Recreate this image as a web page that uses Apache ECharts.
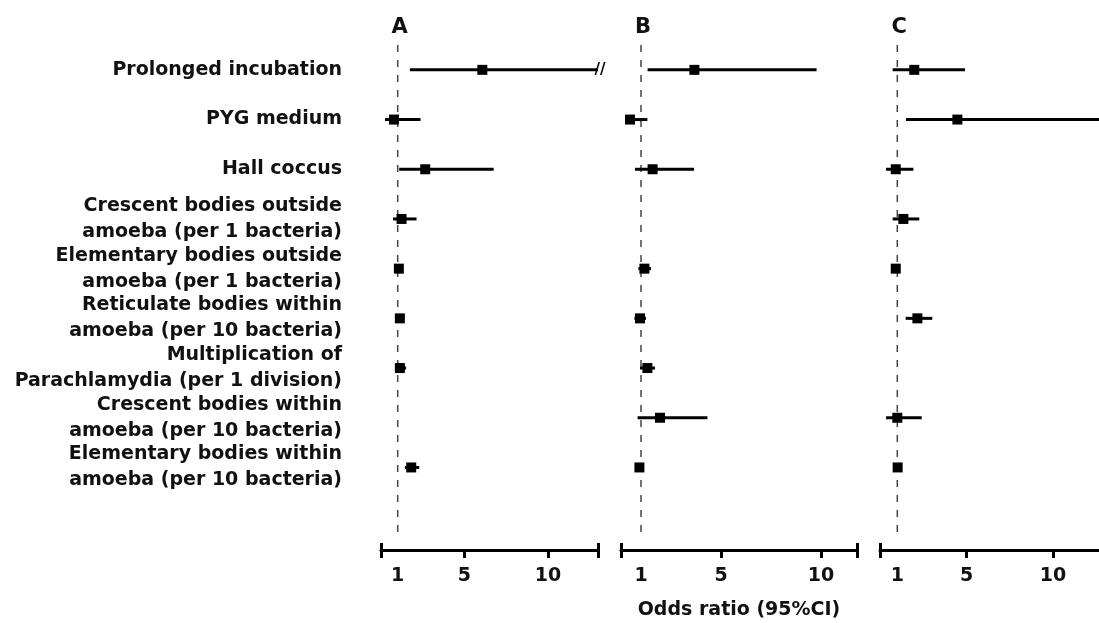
<!DOCTYPE html>
<html>
<head>
<meta charset="utf-8">
<script src="https://cdn.jsdelivr.net/npm/echarts@6/dist/echarts.min.js"></script>
<style>
  html, body { margin: 0; padding: 0; background: #fff; }
  #main { width: 1099px; height: 623px; }
</style>
</head>
<body>
<div id="main"></div>
<script>
// row labels (last one empty = space under the last row)
var rowNames = [
    'Prolonged incubation',
    'PYG medium',
    'Hall coccus',
    'Crescent bodies outside\namoeba (per 1 bacteria)',
    'Elementary bodies outside\namoeba (per 1 bacteria)',
    'Reticulate bodies within\namoeba (per 10 bacteria)',
    'Multiplication of\nParachlamydia (per 1 division)',
    'Crescent bodies within\namoeba (per 10 bacteria)',
    'Elementary bodies within\namoeba (per 10 bacteria)',
    ''
];
var panelNames = ['A', 'B', 'C'];
var tickLabels = [1, 5, 10];
var refValue = 1;

// panel A : odds ratio with 95% CI
var loA = [1.73, 0.24, 1.09, 0.72, 0.95, 0.90, 0.85, null, 1.43];
var orA = [6.07, 0.78, 2.65, 1.23, 1.07, 1.13, 1.13, null, 1.81];
var hiA = [13,   2.37, 6.75, 2.13, 1.20, 1.40, 1.50, null, 2.29];
var brokenA = [1, 0, 0, 0, 0, 0, 0, 0, 0];

// panel B
var loB = [1.33, 0.20, 0.70, null, 0.87, 0.67, 0.95, 0.83, 0.80];
var orB = [3.67, 0.45, 1.58, null, 1.17, 0.95, 1.32, 1.95, 0.92];
var hiB = [9.78, 1.32, 3.65, null, 1.50, 1.25, 1.70, 4.32, 1.05];
var brokenB = [0, 0, 0, 0, 0, 0, 0, 0, 0];

// panel C
var loC = [0.73, 1.50, 0.35, 0.73, 0.75, 1.48, null, 0.35, 0.90];
var orC = [1.98, 4.47, 0.91, 1.35, 0.91, 2.16, null, 1.00, 1.02];
var hiC = [4.91, 13,   1.93, 2.27, 1.05, 3.02, null, 2.41, 1.15];
var brokenC = [0, 0, 0, 0, 0, 0, 0, 0, 0];

var FONT = 'DejaVu Sans';

function buildData(lo, or, hi, broken) {
    var out = [];
    for (var i = 0; i < or.length; i++) {
        if (or[i] == null) continue;
        out.push([lo[i], or[i], hi[i], i, broken[i]]);
    }
    return out;
}

function renderItem(params, api) {
    var row = api.value(3);
    var p0 = api.coord([api.value(0), row]);
    var p1 = api.coord([api.value(1), row]);
    var p2 = api.coord([api.value(2), row]);
    var children = [
        {
            type: 'line',
            shape: { x1: p0[0], y1: p0[1], x2: p2[0], y2: p2[1] },
            style: { stroke: '#000', lineWidth: 3 }
        },
        {
            type: 'rect',
            shape: { x: p1[0] - 5, y: p1[1] - 5, width: 10, height: 10 },
            style: { fill: '#000' }
        }
    ];
    if (api.value(4)) {
        children.push({
            type: 'text',
            x: p2[0] + 2,
            y: p2[1],
            style: {
                text: '//', fill: '#000', align: 'center', verticalAlign: 'middle',
                fontSize: 15, fontWeight: 'bold', fontFamily: FONT
            }
        });
    }
    return { type: 'group', children: children };
}

// dashed vertical line at OR = 1, full grid height
function renderRef(params, api) {
    var cs = params.coordSys;
    var x = api.coord([api.value(0), 0])[0];
    return {
        type: 'line',
        shape: { x1: x, y1: cs.y, x2: x, y2: cs.y + cs.height - 4 },
        style: { stroke: '#444', lineWidth: 1.5, lineDash: [7, 8] }
    };
}

var panels = [
    { left: 381, width: 217, max: 13, data: buildData(loA, orA, hiA, brokenA) },
    { left: 621, width: 236, max: 11.8, data: buildData(loB, orB, hiB, brokenB) },
    { left: 880, width: 225, max: 13, data: buildData(loC, orC, hiC, brokenC) }
];

var myChart = echarts.init(document.getElementById('main'));

var grids = [], xAxes = [], yAxes = [], series = [];
panels.forEach(function (p, i) {
    grids.push({
        left: p.left, width: p.width, top: 45, height: 497,
        containLabel: false, outerBoundsMode: 'none'
    });
    // main axis: line, down ticks, labels
    xAxes.push({
        gridIndex: i,
        type: 'value',
        position: 'bottom',
        min: 0,
        max: p.max,
        offset: 8,
        name: i === 1 ? 'Odds ratio (95%CI)' : '',
        nameLocation: 'middle',
        nameGap: 51,
        nameTextStyle: { color: '#111', fontSize: 19, fontWeight: 'bold', fontFamily: FONT },
        splitLine: { show: false },
        axisLine: { show: true, onZero: false, lineStyle: { color: '#000', width: 3 } },
        axisTick: {
            show: true,
            customValues: [0, 5, 10, p.max],
            length: 8,
            lineStyle: { color: '#000', width: 3 }
        },
        axisLabel: {
            customValues: tickLabels,
            margin: 17,
            color: '#111',
            fontSize: 19,
            fontWeight: 'bold',
            fontFamily: FONT
        }
    });
    // second axis: only the upward half of the end caps
    xAxes.push({
        gridIndex: i,
        type: 'value',
        position: 'bottom',
        min: 0,
        max: p.max,
        offset: 8,
        splitLine: { show: false },
        axisLine: { show: false },
        axisTick: {
            show: true,
            inside: true,
            customValues: [0, p.max],
            length: 7,
            lineStyle: { color: '#000', width: 3 }
        },
        axisLabel: { show: false }
    });
    yAxes.push({
        gridIndex: i,
        type: 'category',
        data: rowNames,
        inverse: true,
        axisLine: { show: false },
        axisTick: { show: false },
        splitLine: { show: false },
        axisLabel: {
            show: i === 0,
            margin: 39,
            color: '#111',
            fontSize: 19,
            fontWeight: 'bold',
            fontFamily: FONT,
            lineHeight: 26,
            align: 'right'
        }
    });
    series.push({
        type: 'custom',
        xAxisIndex: i * 2,
        yAxisIndex: i,
        renderItem: renderRef,
        encode: { x: 0, y: 1 },
        data: [[refValue, 0]],
        clip: false,
        silent: true,
        z: 1
    });
    series.push({
        type: 'custom',
        xAxisIndex: i * 2,
        yAxisIndex: i,
        renderItem: renderItem,
        encode: { x: [0, 1, 2], y: 3 },
        data: p.data,
        clip: false,
        silent: true,
        z: 2
    });
});

var option = {
    backgroundColor: '#fff',
    animation: false,
    grid: grids,
    xAxis: xAxes,
    yAxis: yAxes,
    series: series
};
myChart.setOption(option);

// panel letters placed above the OR = 1 reference line
var letters = panelNames.map(function (name, i) {
    var x = myChart.convertToPixel({ xAxisIndex: i * 2 }, refValue);
    return {
        type: 'text',
        x: x + 2,
        y: 28,
        style: {
            text: name, fill: '#111', align: 'center', verticalAlign: 'middle',
            fontSize: 21, fontWeight: 'bold', fontFamily: FONT
        }
    };
});
myChart.setOption({ graphic: letters });

window.onresize = function () {
    myChart.resize();
};
</script>
</body>
</html>
